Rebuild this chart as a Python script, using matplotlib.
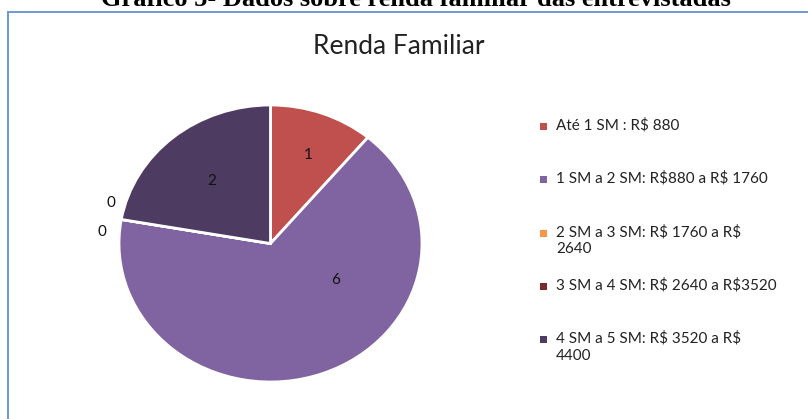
import matplotlib.pyplot as plt
from matplotlib.patches import Rectangle

categories = ['Até 1 SM : R\\$ 880',
              '1 SM a 2 SM: R\\$880 a R\\$ 1760',
              '2 SM a 3 SM: R\\$ 1760 a R\\$\n2640',
              '3 SM a 4 SM: R\\$ 2640 a R\\$3520',
              '4 SM a 5 SM: R\\$ 3520 a R\\$\n4400']
values = [1, 6, 0, 0, 2]
value_labels = ['1', '6', '0', '0', '2']

COLORS = ['#C0504D', '#8064A2', '#F79646', '#772C2A', '#4E3B62']
# where Excel put the value labels (pie units, radius = 1)
LABEL_POS = [(0.25, 0.64), (0.43, -0.26), (-1.05, 0.29), (-1.11, 0.08), (-0.39, 0.45)]

W, H = 808, 419
fig = plt.figure(figsize=(W / 100, H / 100), dpi=100)
fig.patch.set_facecolor('white')

# caption cut off at the top of the page crop
fig.text(416 / W, 1 - 6 / H, 'Gráfico 5- Dados sobre renda familiar das entrevistadas',
         ha='center', va='baseline', fontsize=19, fontweight='bold',
         family='Liberation Serif')

# chart frame
fig.patches.append(Rectangle((8 / W, -0.1), 1.2, 1 - 12 / H + 0.1,
                             transform=fig.transFigure, fill=False,
                             edgecolor='#6F99D2', linewidth=1.4))

fig.text(399 / W, 1 - 47 / H, 'Renda Familiar', ha='center', va='center',
         fontsize=19, family='Lato', color='#222222')

# the pie in the source is stretched sideways
cx, cy, rx, ry = 270.5, 243.5, 151.5, 138.5
ax = fig.add_axes([(cx - rx) / W, (H - cy - ry) / H, 2 * rx / W, 2 * ry / H])
ax.pie(values, colors=COLORS, startangle=90, counterclock=False, radius=1,
       wedgeprops=dict(edgecolor='white', linewidth=2))
ax.set_xlim(-1, 1)
ax.set_ylim(-1, 1)
ax.set_aspect('auto')
ax.axis('off')

for lab, (x, y) in zip(value_labels, LABEL_POS):
    ax.text(x, y, lab, ha='center', va='center', fontsize=11,
            family='Lato', color='#111111')

# legend drawn by hand to mimic Excel's spacing
y0, dy = 127, 53.3
for i, (lab, col) in enumerate(zip(categories, COLORS)):
    y = y0 + i * dy
    fig.patches.append(Rectangle(((543 - 3) / W, (H - y - 3) / H), 7 / W, 7 / H,
                                 transform=fig.transFigure, facecolor=col,
                                 edgecolor='none'))
    fig.text(556 / W, 1 - (y - 9) / H, lab, ha='left', va='top', fontsize=11,
             family='Lato', color='#222222', linespacing=1.3)

plt.savefig('out.png', dpi=100, facecolor='white')
